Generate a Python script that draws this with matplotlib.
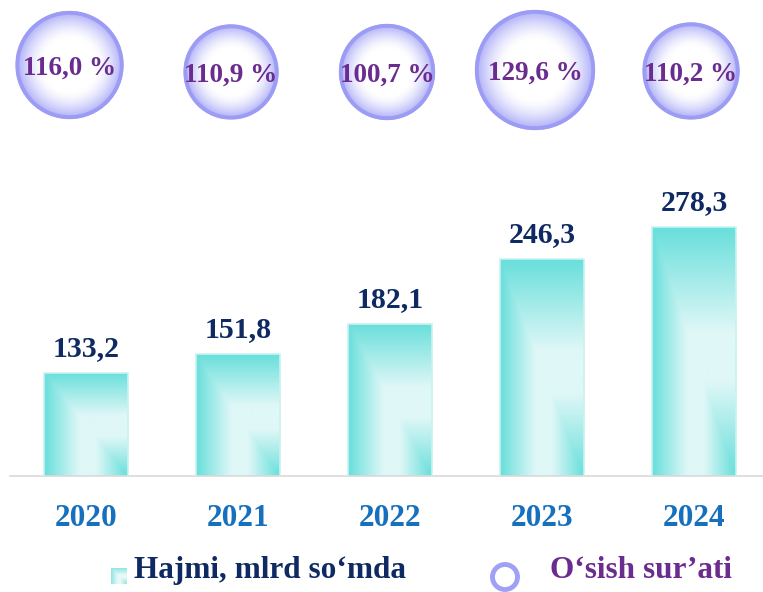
import numpy as np
import matplotlib
matplotlib.use('Agg')
import matplotlib.pyplot as plt
from matplotlib.patches import Circle
from matplotlib.colors import to_rgb

# data
years = ['2020', '2021', '2022', '2023', '2024']
volume = [133.2, 151.8, 182.1, 246.3, 278.3]
volume_labels = ['133,2', '151,8', '182,1', '246,3', '278,3']
growth = [116.0, 110.9, 100.7, 129.6, 110.2]
growth_labels = ['116,0 %', '110,9 %', '100,7 %', '129,6 %', '110,2 %']
bubble_size = [54, 47.5, 48, 60, 48.5]   # bubble radius, px

# layout tweaks for the bubbles (px)
bubble_dx = [-16.5, -7, -3, -7, -3]
bubble_y = [65, 72, 72, 70, 71]

W, H = 763, 592
plt.rcParams['font.family'] = ['Liberation Serif', 'DejaVu Serif']
plt.rcParams['font.weight'] = 'bold'

NAVY = '#0f2a62'
BLUE = '#1670bd'
PURPLE = '#6b2c8f'
TEAL = np.array(to_rgb('#68dfdb'))
LIGHT = np.array(to_rgb('#dff7f7'))
LAV = np.array(to_rgb('#a9a9f8'))


def bar_grad(teal=TEAL, light=LIGHT, n=240, m=90):
    # rectangular "from corner" gradient: teal on left/top edges and bottom-right corner
    u = np.linspace(0, 1, m)[None, :]
    v = np.linspace(0, 1, n)[:, None]
    t = np.minimum(u, v)
    w = np.where(t < 0.42, (0.42 - t) / 0.42, np.clip((t - 0.62) / 0.38, 0, 1))
    return light + (teal - light) * w[..., None]


def bubble_grad(n=200):
    g = np.linspace(-1, 1, n)
    d = np.hypot(g[None, :], g[:, None])
    w = np.clip((d - 0.5) / 0.5, 0, 1) ** 1.5
    return 1 + (LAV - 1) * w[..., None]


fig = plt.figure(figsize=(W / 100, H / 100), dpi=100)

base = 30.5
ax = fig.add_axes([10 / W, (H - 476) / H, (W - 10) / W, 476 / H])
x = np.arange(len(years))

bars = ax.bar(x, volume, width=0.55, color='none', edgecolor='#c9f2f0', lw=1.2, zorder=3)
for b in bars:
    x0 = b.get_x()
    im = ax.imshow(bar_grad(), extent=[x0, x0 + b.get_width(), base, b.get_height()],
                   aspect='auto', interpolation='bilinear', zorder=2)
    im.set_clip_path(b)

ax.set_xlim(-0.5, -0.5 + (W - 10) / 152)
ax.set_ylim(base, base + 476 / 1.0034)
for s in ['top', 'left', 'right']:
    ax.spines[s].set_visible(False)
ax.spines['bottom'].set_color('#d9d9d9')
ax.spines['bottom'].set_linewidth(1.2)
ax.set_xticks([])
ax.set_yticks([])
ax.patch.set_alpha(0)

for i, (v, lab) in enumerate(zip(volume, volume_labels)):
    ax.annotate(lab, (i, v), xytext=(0, 17), textcoords='offset pixels',
                ha='center', va='baseline', color=NAVY, fontsize=21.5)
for i, yr in enumerate(years):
    ax.annotate(yr, (i, base), xytext=(0, -50), textcoords='offset pixels',
                ha='center', va='baseline', color=BLUE, fontsize=22.5,
                annotation_clip=False)

# overlay in pixel coordinates for bubbles and legend
ov = fig.add_axes([0, 0, 1, 1], zorder=5)
ov.patch.set_alpha(0)
ov.axis('off')

for i, lab in enumerate(growth_labels):
    cx = ax.transData.transform((i, base))[0] + bubble_dx[i]
    cy = bubble_y[i]
    r = bubble_size[i]
    im = ov.imshow(bubble_grad(), extent=[cx - r, cx + r, cy + r, cy - r],
                   aspect='auto', interpolation='bilinear', zorder=1)
    im.set_clip_path(Circle((cx, cy), r, transform=ov.transData))
    ov.add_patch(Circle((cx, cy), r - 1.8, fill=False, ec='#9c9cf5', lw=2.8, zorder=2))
    ov.text(cx, cy + 9.5, lab, ha='center', va='baseline', color=PURPLE, fontsize=19.5, zorder=3)

# legend
ov.imshow(bar_grad(np.array(to_rgb('#8fe6e2')), np.array(to_rgb('#e6f9f8')), 40, 40),
          extent=[111, 127, 584, 568], aspect='auto', interpolation='bilinear')
ov.text(134, 578, 'Hajmi, mlrd so‘mda', ha='left', va='baseline', color=NAVY, fontsize=22.5)
ov.add_patch(Circle((505, 577), 12.5, fc='white', ec='#a0a0f7', lw=3.5))
ov.text(550, 578, 'O‘sish sur’ati', ha='left', va='baseline', color=PURPLE, fontsize=22.5)

ov.set_xlim(0, W)
ov.set_ylim(H, 0)

fig.savefig('out.png', dpi=100)
